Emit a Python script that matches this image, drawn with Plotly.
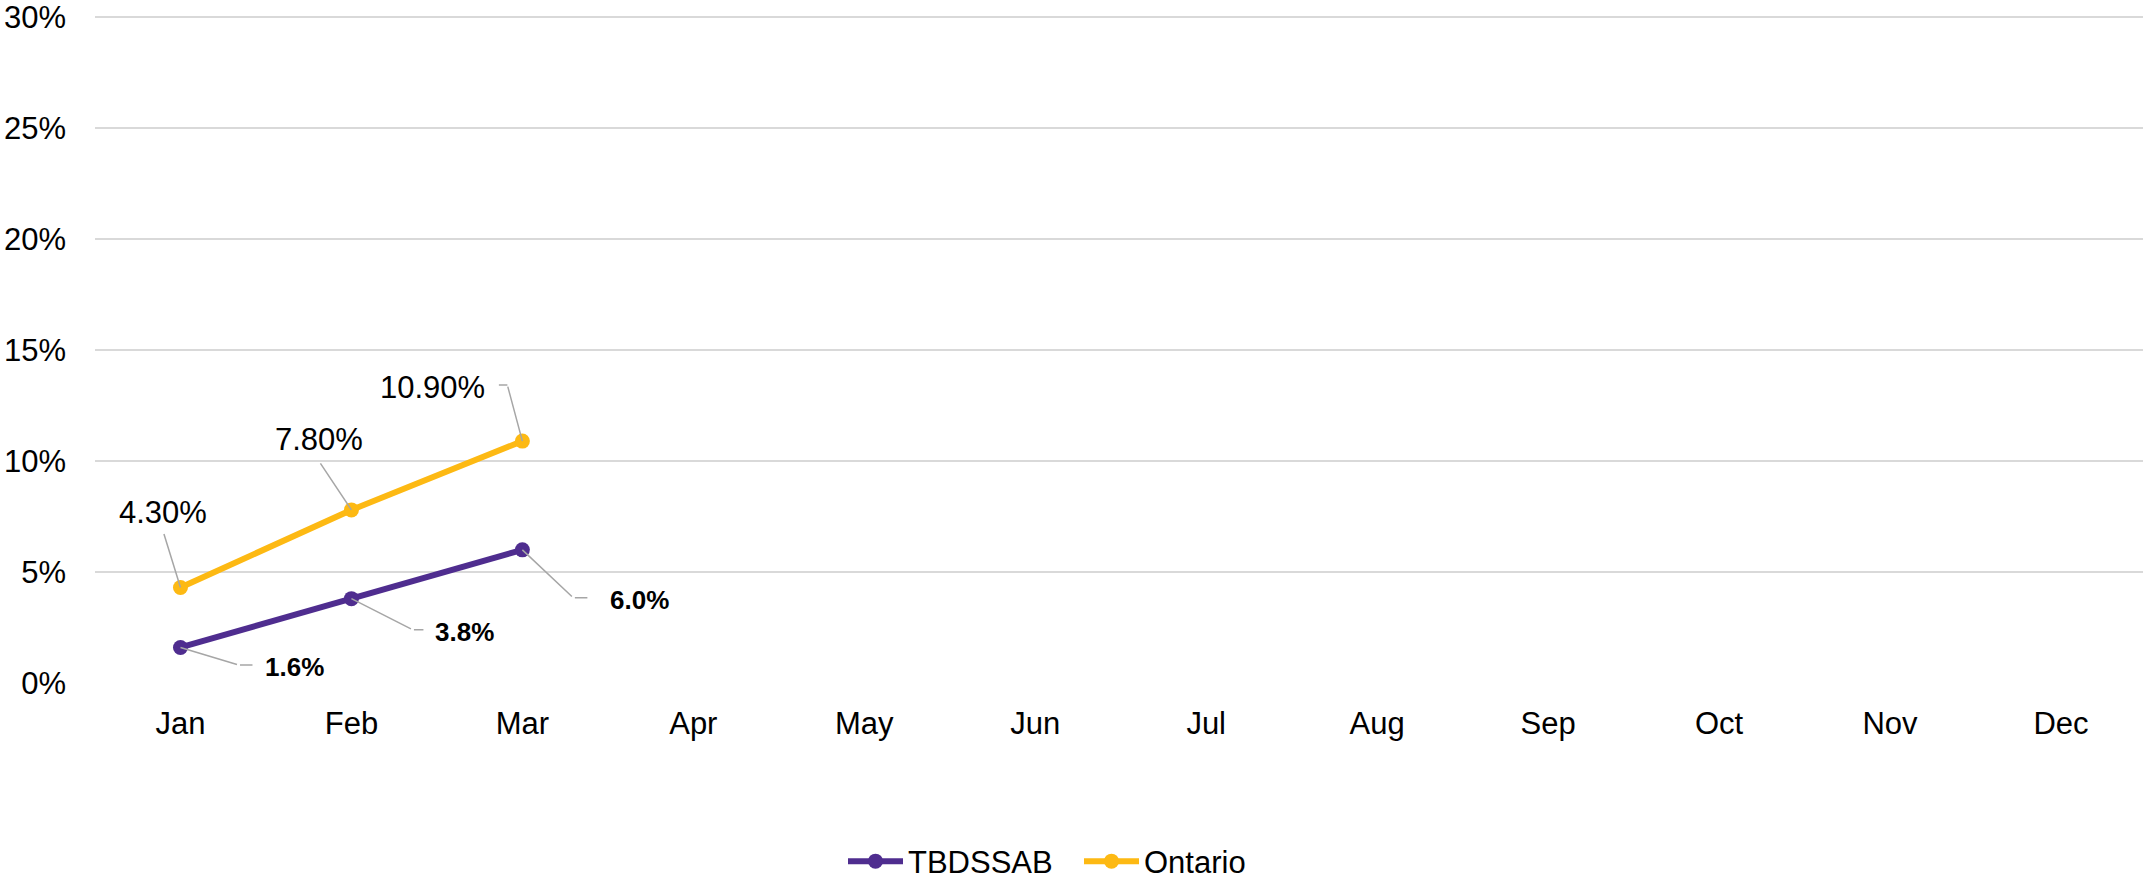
import plotly.graph_objects as go

months = ["Jan", "Feb", "Mar", "Apr", "May", "Jun", "Jul", "Aug", "Sep", "Oct", "Nov", "Dec"]
tb_months = ["Jan", "Feb", "Mar"]
tbdssab = [1.6, 3.8, 6.0]
ontario = [4.3, 7.8, 10.9]
y_ticks = [0, 5, 10, 15, 20, 25, 30]
y_tick_text = [f"{v}%" for v in y_ticks]

PURPLE = "#4F2D8F"
GOLD = "#FDB913"
GREY_LINE = "#A6A6A6"
FONT = "Liberation Sans, Arial, sans-serif"

fig = go.Figure()
fig.add_trace(go.Scatter(x=tb_months, y=tbdssab, name="TBDSSAB", mode="lines+markers",
                         line=dict(color=PURPLE, width=6), marker=dict(size=15, color=PURPLE)))
fig.add_trace(go.Scatter(x=tb_months, y=ontario, name="Ontario", mode="lines+markers",
                         line=dict(color=GOLD, width=6), marker=dict(size=15, color=GOLD)))

ann = []
# Ontario labels: (leader dx, dy, elbow horizontal, text xshift, yshift, anchor)
ont_style = [(-17, -55, 0, -17, 75, "center"),
             (-32, -48, 0, -32, 70, "center"),
             (-15, -56, -10, -35, 54, "right")]
for m, v, (ldx, ldy, eh, tx, ty, anc) in zip(tb_months, ontario, ont_style):
    ann.append(dict(x=m, y=v, text="", showarrow=True, arrowhead=0, arrowwidth=1.5,
                    arrowcolor=GREY_LINE, ax=ldx, ay=ldy, standoff=0))
    if eh:
        ann.append(dict(x=m, y=v, text="", showarrow=True, arrowhead=0, arrowwidth=1.5,
                        arrowcolor=GREY_LINE, xshift=ldx, yshift=-ldy, ax=eh, ay=0))
    ann.append(dict(x=m, y=v, text=f"{v:.2f}%", showarrow=False, xshift=tx, yshift=ty,
                    xanchor=anc, yanchor="middle",
                    font=dict(family=FONT, size=31, color="#000000")))

tb_style = [(58, 17.5, 14, 83, -19.5),
            (61, 31, 11, 82, -33),
            (51, 48, 14, 86, -50)]
for m, v, (ldx, ldy, eh, tx, ty) in zip(tb_months, tbdssab, tb_style):
    ann.append(dict(x=m, y=v, text="", showarrow=True, arrowhead=0, arrowwidth=1.5,
                    arrowcolor=GREY_LINE, ax=ldx, ay=ldy, standoff=0))
    ann.append(dict(x=m, y=v, text="", showarrow=True, arrowhead=0, arrowwidth=1.5,
                    arrowcolor=GREY_LINE, xshift=ldx + eh, yshift=-ldy, ax=-eh, ay=0))
    ann.append(dict(x=m, y=v, text=f"<b>{v:.1f}%</b>", showarrow=False, xshift=tx, yshift=ty,
                    xanchor="left", yanchor="middle",
                    font=dict(family=FONT, size=26, color="#000000")))

W, H = 2143, 880
fig.update_layout(
    width=W, height=H,
    margin=dict(l=95, r=0, t=15, b=197, autoexpand=False),
    paper_bgcolor="white", plot_bgcolor="white",
    font=dict(family=FONT, size=31, color="#000000"),
    annotations=ann,
    showlegend=True,
    legend=dict(orientation="h", xref="container", yref="container", x=843 / W, y=0.021,
                xanchor="left", yanchor="middle", font=dict(size=31), itemwidth=55,
                entrywidth=166, entrywidthmode="pixels",
                bgcolor="rgba(0,0,0,0)"),
    xaxis=dict(type="category", categoryorder="array", categoryarray=months,
               tickvals=months, range=[-0.5, 11.48], showgrid=False, zeroline=False,
               showline=False, ticks="", ticklabelstandoff=19, automargin=False,
               tickfont=dict(size=31)),
    yaxis=dict(range=[0, 30.1], tickvals=y_ticks, ticktext=y_tick_text, showgrid=True,
               gridcolor="#D9D9D9", gridwidth=2, zeroline=False, showline=False,
               ticks="", ticklabelstandoff=28, automargin=False, tickfont=dict(size=31)),
)

fig.write_html("out.html", config={"displayModeBar": False},
               post_script="document.body.style.margin='0';document.body.style.overflow='hidden';")
